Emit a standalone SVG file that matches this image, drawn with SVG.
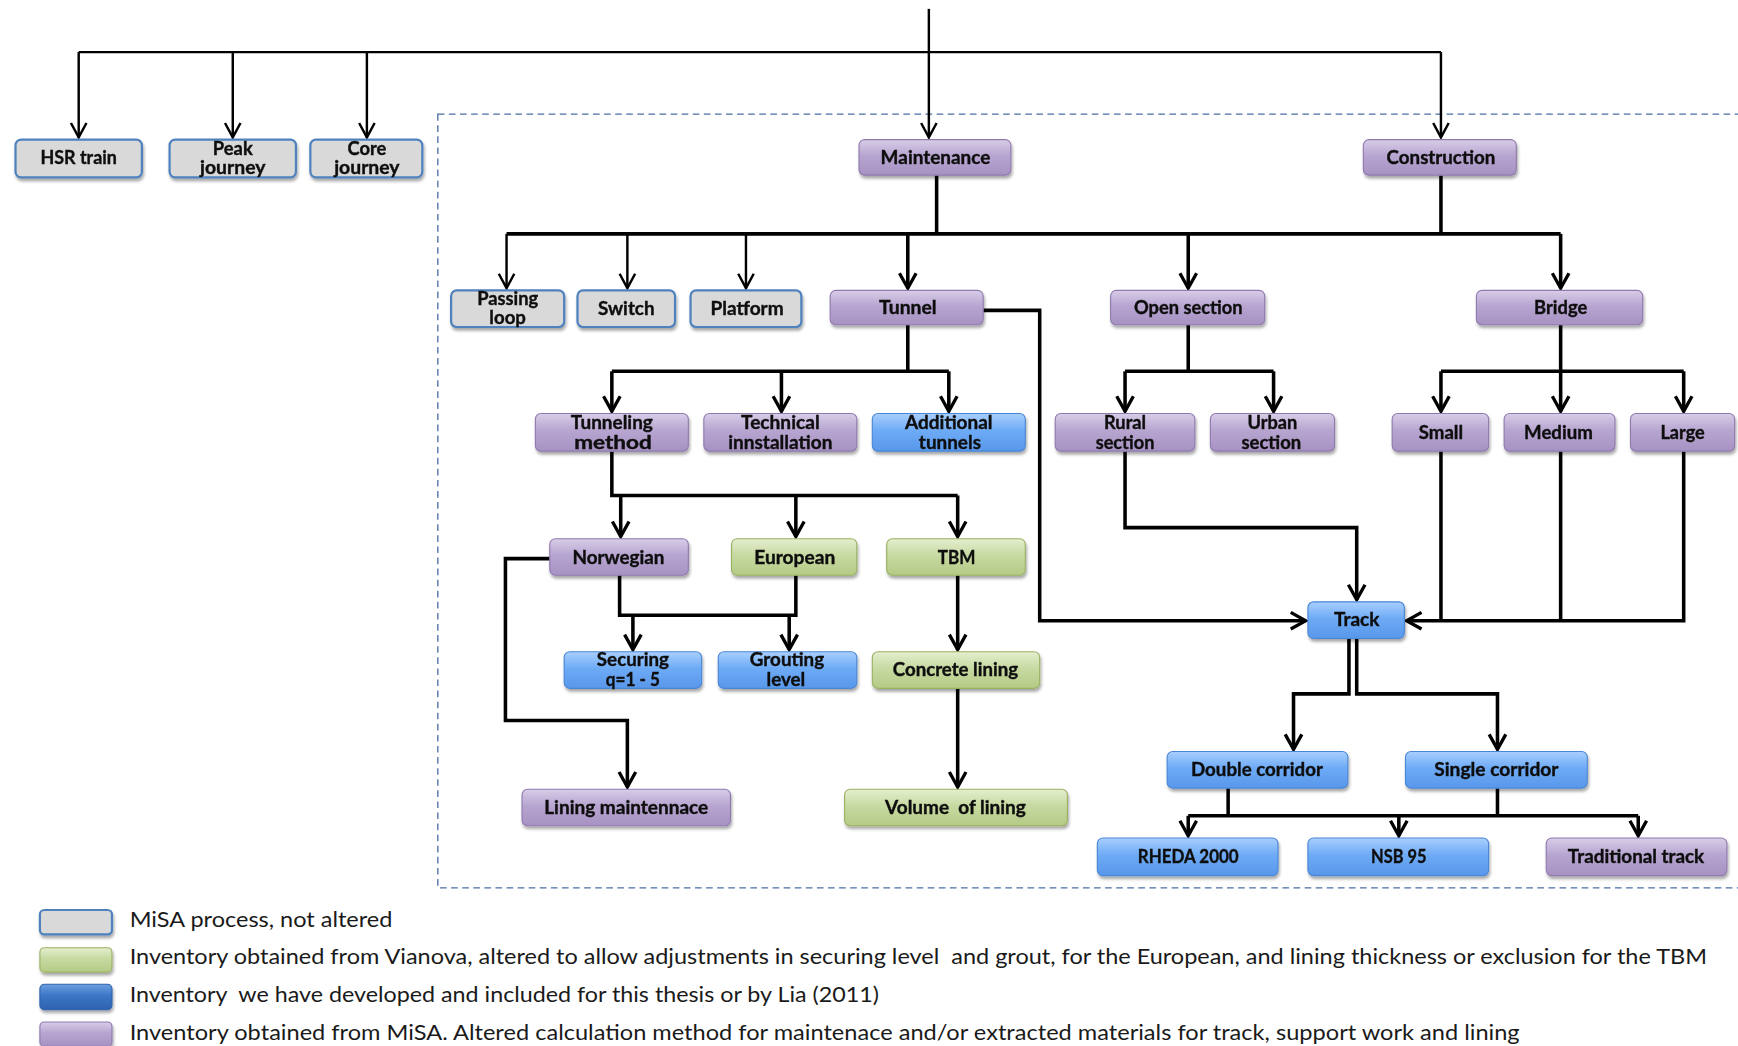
<svg xmlns="http://www.w3.org/2000/svg" width="1738" height="1046" viewBox="0 0 1738 1046">
<style>
.lbl{font-family:Lato,"Liberation Sans",sans-serif;font-weight:bold;font-size:16.5px;fill:#111;stroke:#111;stroke-width:0.35;text-anchor:middle}
.leg{font-family:Lato,"Liberation Sans",sans-serif;font-size:19.5px;fill:#1a1a1a}
.gray{fill:#d9d9d9;stroke:#4f81bd;stroke-width:2}
.purple{fill:url(#gP);stroke:#8f7aae;stroke-width:1}
.green{fill:url(#gG);stroke:#9ab162;stroke-width:1}
.blue{fill:url(#gB);stroke:#4a86d6;stroke-width:1}
.lblue{fill:url(#gLB);stroke:#2f62ad;stroke-width:1}
.box{filter:url(#sh)}
.c{fill:none;stroke:#000;stroke-width:3.2}
.t{fill:none;stroke:#000;stroke-width:2.2}
.a{marker-end:url(#ah)}
.at{marker-end:url(#at)}
</style>
<defs>
<linearGradient id="gP" x1="0" y1="0" x2="0" y2="1"><stop offset="0" stop-color="#d8cde8"/><stop offset="0.45" stop-color="#b7a5d0"/><stop offset="1" stop-color="#a792c3"/></linearGradient>
<linearGradient id="gG" x1="0" y1="0" x2="0" y2="1"><stop offset="0" stop-color="#e5eecf"/><stop offset="0.45" stop-color="#c7daa2"/><stop offset="1" stop-color="#b4ca85"/></linearGradient>
<linearGradient id="gB" x1="0" y1="0" x2="0" y2="1"><stop offset="0" stop-color="#a9cffd"/><stop offset="0.45" stop-color="#6eabf6"/><stop offset="1" stop-color="#5897ea"/></linearGradient>
<linearGradient id="gLB" x1="0" y1="0" x2="0" y2="1"><stop offset="0" stop-color="#6d9fe0"/><stop offset="0.45" stop-color="#3c76c6"/><stop offset="1" stop-color="#2e62ae"/></linearGradient>
<filter id="sh" x="-10%" y="-20%" width="125%" height="170%"><feDropShadow dx="1" dy="2.5" stdDeviation="1.6" flood-color="#000" flood-opacity="0.35"/></filter>
<marker id="ah" markerUnits="userSpaceOnUse" viewBox="-17 -11 20 22" markerWidth="20" markerHeight="22" refX="0" refY="0" orient="auto"><path d="M-13.5,-7.5 L0,0 L-13.5,7.5" fill="none" stroke="#000" stroke-width="3"/></marker>
<marker id="at" markerUnits="userSpaceOnUse" viewBox="-17 -11 20 22" markerWidth="20" markerHeight="22" refX="0" refY="0" orient="auto"><path d="M-13,-7 L0,0 L-13,7" fill="none" stroke="#000" stroke-width="2.2"/></marker>
</defs>
<rect x="0" y="0" width="1738" height="1046" fill="#fff"/>
<g transform="scale(1.10842)">
<rect id="frame" x="395" y="103" width="1190" height="698" fill="none" stroke="#4a6fa5" stroke-width="1.2" stroke-dasharray="6,4"/>

<g id="connectors">
<path class="t at" d="M838,8 V124"/>
<path class="t" d="M71,47 H1300"/>
<path class="t at" d="M71,47 V124"/>
<path class="t at" d="M210,47 V124"/>
<path class="t at" d="M331,47 V124"/>
<path class="t at" d="M1300,47 V124"/>
<path class="c" d="M845,158 V211"/>
<path class="c" d="M1300,158 V211"/>
<path class="c" d="M457,211 H1408"/>
<path class="t at" d="M457,211 V260"/>
<path class="t at" d="M566,211 V260"/>
<path class="t at" d="M673,211 V260"/>
<path class="c a" d="M819,211 V260"/>
<path class="c a" d="M1072,211 V260"/>
<path class="c a" d="M1408,211 V260"/>
<path class="c a" d="M887,280 H938 V560 H1178"/>
<path class="c" d="M819,293 V335"/>
<path class="c" d="M552,335 H856"/>
<path class="c a" d="M552,335 V371"/>
<path class="c a" d="M705,335 V371"/>
<path class="c a" d="M856,335 V371"/>
<path class="c" d="M1072,293 V335"/>
<path class="c" d="M1015,335 H1149"/>
<path class="c a" d="M1015,335 V371"/>
<path class="c a" d="M1149,335 V371"/>
<path class="c" d="M1408,293 V335"/>
<path class="c" d="M1300,335 H1519"/>
<path class="c a" d="M1300,335 V371"/>
<path class="c a" d="M1408,335 V371"/>
<path class="c a" d="M1519,335 V371"/>
<path class="c a" d="M1015,407 V476 H1224 V541"/>
<path class="c" d="M1300,407 V560"/>
<path class="c" d="M1408,407 V560"/>
<path class="c a" d="M1519,407 V560 H1269"/>
<path class="c a" d="M1217,576 V626 H1167 V676"/>
<path class="c a" d="M1224,576 V626 H1351 V676"/>
<path class="c" d="M1108,711 V736"/>
<path class="c" d="M1351,711 V736"/>
<path class="c" d="M1072,736 H1478"/>
<path class="c a" d="M1072,736 V754"/>
<path class="c a" d="M1262,736 V754"/>
<path class="c a" d="M1478,736 V754"/>
<path class="c" d="M552,407 V447 H864"/>
<path class="c a" d="M560,447 V484"/>
<path class="c a" d="M718,447 V484"/>
<path class="c a" d="M864,447 V484"/>
<path class="c" d="M559,519 V555 H718 V519"/>
<path class="c a" d="M571,555 V586"/>
<path class="c a" d="M712,555 V586"/>
<path class="c a" d="M496,504 H456 V650 H566 V710"/>
<path class="c a" d="M864,519 V586"/>
<path class="c a" d="M864,621 V710"/>
</g>

<g id="n-hsr" class="box"><rect class="gray" x="14" y="126" width="114" height="34" rx="5"/><text class="lbl" x="71" y="148" textLength="69" lengthAdjust="spacingAndGlyphs">HSR train</text></g>
<g id="n-peak" class="box"><rect class="gray" x="153" y="126" width="114" height="34" rx="5"/><text class="lbl" x="210" y="140" textLength="36" lengthAdjust="spacingAndGlyphs">Peak</text><text class="lbl" x="210" y="157" textLength="59" lengthAdjust="spacingAndGlyphs">journey</text></g>
<g id="n-core" class="box"><rect class="gray" x="280" y="126" width="101" height="34" rx="5"/><text class="lbl" x="331" y="140" textLength="35" lengthAdjust="spacingAndGlyphs">Core</text><text class="lbl" x="331" y="157" textLength="59" lengthAdjust="spacingAndGlyphs">journey</text></g>
<g id="n-maintenance" class="box"><rect class="purple" x="775" y="126" width="137" height="32" rx="5"/><text class="lbl" x="844" y="148" textLength="99" lengthAdjust="spacingAndGlyphs">Maintenance</text></g>
<g id="n-construction" class="box"><rect class="purple" x="1230" y="126" width="138" height="32" rx="5"/><text class="lbl" x="1300" y="148" textLength="98" lengthAdjust="spacingAndGlyphs">Construction</text></g>
<g id="n-passing" class="box"><rect class="gray" x="407" y="262" width="102" height="33" rx="5"/><text class="lbl" x="458" y="275" textLength="55" lengthAdjust="spacingAndGlyphs">Passing</text><text class="lbl" x="458" y="292" textLength="33" lengthAdjust="spacingAndGlyphs">loop</text></g>
<g id="n-switch" class="box"><rect class="gray" x="521" y="262" width="88" height="33" rx="5"/><text class="lbl" x="565" y="284" textLength="51" lengthAdjust="spacingAndGlyphs">Switch</text></g>
<g id="n-platform" class="box"><rect class="gray" x="623" y="262" width="100" height="33" rx="5"/><text class="lbl" x="674" y="284" textLength="66" lengthAdjust="spacingAndGlyphs">Platform</text></g>
<g id="n-tunnel" class="box"><rect class="purple" x="749" y="262" width="138" height="31" rx="5"/><text class="lbl" x="819" y="283" textLength="52" lengthAdjust="spacingAndGlyphs">Tunnel</text></g>
<g id="n-open" class="box"><rect class="purple" x="1002" y="262" width="139" height="31" rx="5"/><text class="lbl" x="1072" y="283" textLength="98" lengthAdjust="spacingAndGlyphs">Open section</text></g>
<g id="n-bridge" class="box"><rect class="purple" x="1332" y="262" width="150" height="31" rx="5"/><text class="lbl" x="1408" y="283" textLength="48" lengthAdjust="spacingAndGlyphs">Bridge</text></g>
<g id="n-tunneling" class="box"><rect class="purple" x="483" y="373" width="138" height="34" rx="5"/><text class="lbl" x="552" y="387" textLength="74" lengthAdjust="spacingAndGlyphs">Tunneling</text><text class="lbl" x="553" y="405" textLength="70" lengthAdjust="spacingAndGlyphs">method</text></g>
<g id="n-technical" class="box"><rect class="purple" x="635" y="373" width="138" height="34" rx="5"/><text class="lbl" x="704" y="387" textLength="71" lengthAdjust="spacingAndGlyphs">Technical</text><text class="lbl" x="704" y="405" textLength="94" lengthAdjust="spacingAndGlyphs">innstallation</text></g>
<g id="n-additional" class="box"><rect class="blue" x="787" y="373" width="138" height="34" rx="5"/><text class="lbl" x="856" y="387" textLength="79" lengthAdjust="spacingAndGlyphs">Additional</text><text class="lbl" x="857" y="405" textLength="56" lengthAdjust="spacingAndGlyphs">tunnels</text></g>
<g id="n-rural" class="box"><rect class="purple" x="952" y="373" width="126" height="34" rx="5"/><text class="lbl" x="1015" y="387" textLength="38" lengthAdjust="spacingAndGlyphs">Rural</text><text class="lbl" x="1015" y="405" textLength="53" lengthAdjust="spacingAndGlyphs">section</text></g>
<g id="n-urban" class="box"><rect class="purple" x="1092" y="373" width="112" height="34" rx="5"/><text class="lbl" x="1148" y="387" textLength="45" lengthAdjust="spacingAndGlyphs">Urban</text><text class="lbl" x="1147" y="405" textLength="54" lengthAdjust="spacingAndGlyphs">section</text></g>
<g id="n-small" class="box"><rect class="purple" x="1256" y="373" width="87" height="34" rx="5"/><text class="lbl" x="1300" y="396" textLength="40" lengthAdjust="spacingAndGlyphs">Small</text></g>
<g id="n-medium" class="box"><rect class="purple" x="1357" y="373" width="100" height="34" rx="5"/><text class="lbl" x="1406" y="396" textLength="62" lengthAdjust="spacingAndGlyphs">Medium</text></g>
<g id="n-large" class="box"><rect class="purple" x="1471" y="373" width="94" height="34" rx="5"/><text class="lbl" x="1518" y="396" textLength="40" lengthAdjust="spacingAndGlyphs">Large</text></g>
<g id="n-norwegian" class="box"><rect class="purple" x="496" y="486" width="125" height="33" rx="5"/><text class="lbl" x="558" y="509" textLength="83" lengthAdjust="spacingAndGlyphs">Norwegian</text></g>
<g id="n-european" class="box"><rect class="green" x="660" y="486" width="113" height="33" rx="5"/><text class="lbl" x="717" y="509" textLength="73" lengthAdjust="spacingAndGlyphs">European</text></g>
<g id="n-tbm" class="box"><rect class="green" x="800" y="486" width="125" height="33" rx="5"/><text class="lbl" x="863" y="509" textLength="34" lengthAdjust="spacingAndGlyphs">TBM</text></g>
<g id="n-securing" class="box"><rect class="blue" x="509" y="588" width="124" height="33" rx="5"/><text class="lbl" x="571" y="601" textLength="65" lengthAdjust="spacingAndGlyphs">Securing</text><text class="lbl" x="571" y="619" textLength="49" lengthAdjust="spacingAndGlyphs">q=1 - 5</text></g>
<g id="n-grouting" class="box"><rect class="blue" x="648" y="588" width="125" height="33" rx="5"/><text class="lbl" x="710" y="601" textLength="67" lengthAdjust="spacingAndGlyphs">Grouting</text><text class="lbl" x="709" y="619" textLength="35" lengthAdjust="spacingAndGlyphs">level</text></g>
<g id="n-concrete" class="box"><rect class="green" x="787" y="588" width="151" height="33" rx="5"/><text class="lbl" x="862" y="610" textLength="113" lengthAdjust="spacingAndGlyphs">Concrete lining</text></g>
<g id="n-liningm" class="box"><rect class="purple" x="471" y="712" width="188" height="33" rx="5"/><text class="lbl" x="565" y="734" textLength="148" lengthAdjust="spacingAndGlyphs">Lining maintennace</text></g>
<g id="n-volume" class="box"><rect class="green" x="762" y="712" width="201" height="33" rx="5"/><text class="lbl" x="862" y="734" textLength="127" lengthAdjust="spacingAndGlyphs" xml:space="preserve">Volume  of lining</text></g>
<g id="n-track" class="box"><rect class="blue" x="1180" y="543" width="87" height="33" rx="5"/><text class="lbl" x="1224" y="565" textLength="41" lengthAdjust="spacingAndGlyphs">Track</text></g>
<g id="n-double" class="box"><rect class="blue" x="1053" y="678" width="163" height="33" rx="5"/><text class="lbl" x="1134" y="700" textLength="119" lengthAdjust="spacingAndGlyphs">Double corridor</text></g>
<g id="n-single" class="box"><rect class="blue" x="1268" y="678" width="164" height="33" rx="5"/><text class="lbl" x="1350" y="700" textLength="112" lengthAdjust="spacingAndGlyphs">Single corridor</text></g>
<g id="n-rheda" class="box"><rect class="blue" x="990" y="756" width="163" height="34" rx="5"/><text class="lbl" x="1072" y="779" textLength="91" lengthAdjust="spacingAndGlyphs">RHEDA 2000</text></g>
<g id="n-nsb" class="box"><rect class="blue" x="1180" y="756" width="163" height="34" rx="5"/><text class="lbl" x="1262" y="779" textLength="50" lengthAdjust="spacingAndGlyphs">NSB 95</text></g>
<g id="n-trad" class="box"><rect class="purple" x="1395" y="756" width="163" height="34" rx="5"/><text class="lbl" x="1476" y="779" textLength="123" lengthAdjust="spacingAndGlyphs">Traditional track</text></g>

<g id="legend">
<g class="box"><rect class="gray" x="36" y="821" width="65" height="22" rx="4"/></g>
<g class="box"><rect class="green" x="36" y="855" width="65" height="22" rx="4"/></g>
<g class="box"><rect class="lblue" x="36" y="888" width="65" height="23" rx="4"/></g>
<g class="box"><rect class="purple" x="36" y="922" width="65" height="22" rx="4"/></g>
<text class="leg" x="117" y="836" textLength="237" lengthAdjust="spacingAndGlyphs">MiSA process, not altered</text>
<text class="leg" x="117" y="870" textLength="1423" lengthAdjust="spacingAndGlyphs" xml:space="preserve">Inventory obtained from Vianova, altered to allow adjustments in securing level  and grout, for the European, and lining thickness or exclusion for the TBM</text>
<text class="leg" x="117" y="904" textLength="676" lengthAdjust="spacingAndGlyphs" xml:space="preserve">Inventory  we have developed and included for this thesis or by Lia (2011)</text>
<text class="leg" x="117" y="938" textLength="1254" lengthAdjust="spacingAndGlyphs">Inventory obtained from MiSA. Altered calculation method for maintenace and/or extracted materials for track, support work and lining</text>
</g>
</g>
</svg>
